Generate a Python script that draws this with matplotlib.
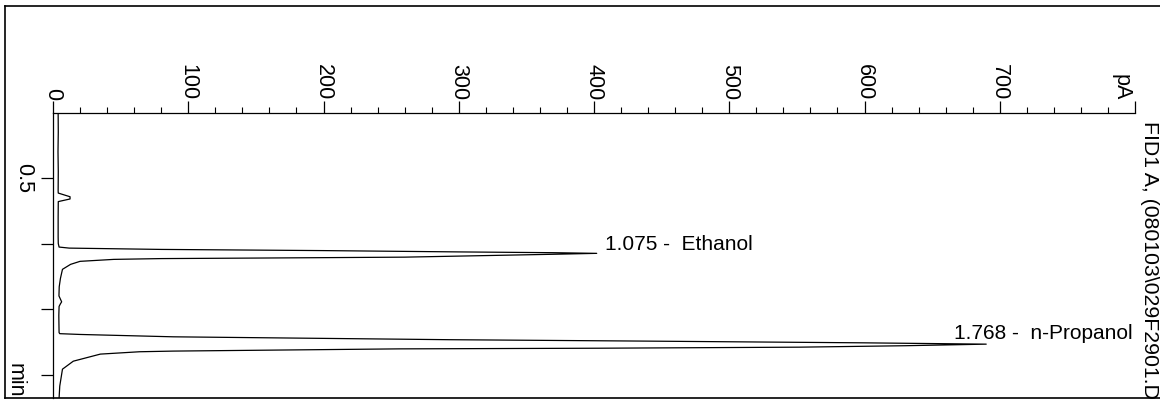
import matplotlib
matplotlib.use('Agg')
import matplotlib.pyplot as plt
from matplotlib.lines import Line2D
from matplotlib.ticker import MultipleLocator

# ---- data (time in min, signal in pA) ----
time_min = [0.000, 0.150, 0.300, 0.450, 0.600, 0.615, 0.643, 0.660, 0.680,
            0.800, 0.950, 1.000, 1.027, 1.035, 1.045, 1.054, 1.064, 1.070,
            1.075, 1.082, 1.092, 1.104, 1.111, 1.115, 1.121, 1.136, 1.159,
            1.197, 1.266, 1.330, 1.400, 1.445, 1.460, 1.480, 1.550, 1.620,
            1.680, 1.688, 1.694, 1.712, 1.734, 1.745, 1.758, 1.768, 1.780,
            1.791, 1.799, 1.804, 1.821, 1.826, 1.844, 1.898, 1.959, 2.088,
            2.179]
signal_pa = [3.8, 3.9, 3.7, 3.9, 3.8, 3.9, 12.6, 12.6, 3.9,
             3.8, 3.8, 3.9, 4.5, 12.0, 80.0, 200.0, 300.0, 370.0,
             402.0, 370.0, 320.0, 260.0, 150.0, 80.0, 45.0, 20.0, 13.0,
             7.0, 5.5, 4.6, 4.4, 6.4, 5.5, 4.5, 4.3, 4.4,
             4.5, 5.0, 20.0, 89.0, 293.0, 441.0, 600.0, 690.0, 630.0,
             552.0, 404.0, 256.0, 89.0, 64.0, 35.0, 15.0, 7.0, 5.0,
             4.5]

peak_times = [1.075, 1.768]
peak_heights = [402, 690]
peak_names = ['Ethanol', 'n-Propanol']

x_ticks = [0, 100, 200, 300, 400, 500, 600, 700, 800]
x_tick_labels = ['0', '100', '200', '300', '400', '500', '600', '700', '']
y_ticks = [0.5, 1.0, 1.5, 2.0]
y_tick_labels = ['0.5', '', '', '']
x_unit = 'pA'
y_unit = 'min'
signal_label = 'FID1 A, (080103\\029F2901.D'

plt.rcParams['font.family'] = ['Liberation Sans', 'DejaVu Sans']

W, H = 1160, 400
fig = plt.figure(figsize=(W / 100, H / 100), dpi=100)
fig.patch.set_facecolor('white')

# axes: pA axis at top (y px 112.5), time axis at left (x px 53)
ax = fig.add_axes([53 / W, 2 / H, 1082 / W, 285.5 / H])
ax.plot(signal_pa, time_min, color='black', lw=0.9)
ax.set_xlim(0, 800)
ax.set_ylim(2.179, 0)

for s in ['right', 'bottom']:
    ax.spines[s].set_visible(False)
for s in ['left', 'top']:
    ax.spines[s].set_linewidth(0.9)

ax.xaxis.tick_top()
ax.set_xticks(x_ticks)
ax.set_xticklabels(x_tick_labels, rotation=-90, fontsize=15.5)
ax.xaxis.set_minor_locator(MultipleLocator(20))
ax.tick_params(axis='x', which='major', direction='out', length=8.6, width=0.9, pad=0)
ax.tick_params(axis='x', which='minor', direction='out', length=4.5, width=0.8)

ax.set_yticks(y_ticks)
ax.set_yticklabels(y_tick_labels, rotation=-90, fontsize=15.5, va='center')
ax.tick_params(axis='y', which='major', direction='out', length=8.6, width=0.9, pad=5)

# unit labels
ax.annotate(x_unit, xy=(790, 0), xytext=(0, 9), textcoords='offset points',
            rotation=-90, ha='center', va='bottom', fontsize=15.5,
            annotation_clip=False)
ax.annotate(y_unit, xy=(0, 2.04), xytext=(-27.4, 0), textcoords='offset points',
            rotation=-90, ha='center', va='center', fontsize=15.5,
            annotation_clip=False)

# peak labels
offsets = [(5.8, 2.7), (-23.0, 3.4)]
for t, h, name, off in zip(peak_times, peak_heights, peak_names, offsets):
    ax.annotate(f'{t:.3f} -  {name}', xy=(h, t), xytext=off,
                textcoords='offset points', ha='left', va='baseline',
                fontsize=15, annotation_clip=False)

# signal description on the right
fig.text(1149 / W, 1 - 121 / H, signal_label, rotation=-90, ha='center',
         va='top', fontsize=15.3)

# outer frame (top, left, bottom)
frame_kw = dict(transform=fig.transFigure, color='black', lw=1.2)
fig.add_artist(Line2D([5 / W, 1.0], [1 - 6 / H, 1 - 6 / H], **frame_kw))
fig.add_artist(Line2D([5 / W, 5 / W], [1 - 6 / H, 2 / H], **frame_kw))
fig.add_artist(Line2D([5 / W, 1.0], [2 / H, 2 / H], **frame_kw))

fig.savefig('out.png', dpi=100)
